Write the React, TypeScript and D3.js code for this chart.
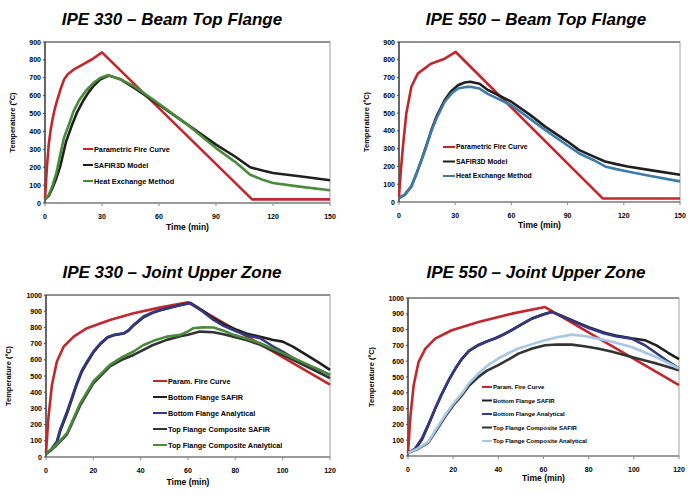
import React from "react";
import * as d3 from "d3";

// ---------- DATA ----------
const titles = [
  "IPE 330 – Beam Top Flange",
  "IPE 550 – Beam Top Flange",
  "IPE 330 – Joint Upper Zone",
  "IPE 550 – Joint Upper Zone",
];
const topLegend = ["Parametric Fire Curve", "SAFIR3D Model", "Heat Exchange Method"];
const bottomLegend = [
  "Param. Fire Curve",
  "Bottom Flange SAFIR",
  "Bottom Flange Analytical",
  "Top Flange Composite SAFIR",
  "Top Flange Composite Analytical",
];
const topXTicks = [0, 30, 60, 90, 120, 150];
const topYTicks = [0, 100, 200, 300, 400, 500, 600, 700, 800, 900];
const bottomXTicks = [0, 20, 40, 60, 80, 100, 120];
const bottomYTicks = [0, 100, 200, 300, 400, 500, 600, 700, 800, 900, 1000];

// IPE 330 – Beam Top Flange
const tlRedT = [0, 1, 2, 3, 4, 5, 6, 8, 10, 12, 15, 20, 25, 30, 109, 150];
const tlRedV = [20, 200, 330, 410, 470, 520, 560, 630, 690, 720, 745, 775, 805, 842, 20, 20];
const tlSafT = [0, 2, 4, 6, 8, 11, 14, 17, 20, 23, 26, 29, 32, 34, 40, 47, 60, 75, 90, 100, 108, 115, 120, 135, 150];
const tlSafV = [20, 40, 85, 140, 205, 340, 430, 510, 570, 620, 660, 690, 705, 712, 690, 643, 550, 438, 326, 260, 200, 180, 168, 148, 127];
const tlHeatT = [0, 2, 4, 6, 8, 10, 13, 15, 18, 22, 26, 29, 33, 40, 47, 60, 75, 90, 100, 108, 115, 120, 135, 150];
const tlHeatV = [20, 45, 100, 168, 270, 365, 450, 512, 575, 633, 675, 699, 714, 690, 652, 555, 438, 307, 230, 158, 128, 112, 90, 71];

// IPE 550 – Beam Top Flange
const trRedT = [0, 1, 2.1, 3.9, 6.6, 10, 17, 24.4, 30.3, 108.7, 150];
const trRedV = [30, 180, 312, 498, 648, 722, 778, 806, 844, 20, 20];
const trSafT = [0, 3, 6.6, 9, 12, 15, 17.3, 20, 24.4, 28, 31.5, 35, 38, 43, 47.6, 60, 70, 78, 90, 96, 104, 110, 116, 122, 135, 150];
const trSafV = [22, 40, 88, 150, 237, 330, 405, 480, 573, 625, 657, 672, 676, 665, 629, 564, 490, 424, 340, 293, 255, 228, 213, 200, 178, 153];
const trHeatT = [0, 3, 6.6, 9, 12, 15, 17.3, 20, 24.4, 28, 31.5, 35, 38, 43, 47.6, 60, 78, 96, 104, 110, 116, 122, 135, 150];
const trHeatV = [22, 40, 88, 150, 235, 325, 400, 470, 564, 610, 638, 646, 648, 638, 607, 545, 405, 274, 235, 200, 185, 172, 145, 116];

// IPE 330 – Joint Upper Zone
const blRedT = [0, 1, 2.5, 4.6, 7.5, 11.7, 17.3, 27, 37, 48, 60, 120];
const blRedV = [25, 240, 445, 589, 682, 743, 795, 846, 887, 922, 955, 446];
const blBotT = [0, 2, 4.6, 6, 8.9, 11, 13, 15, 17.3, 20, 23, 26, 28.6, 32.8, 35, 37, 41.2, 45, 48.3, 52, 55.3, 61, 66, 70.8, 75, 80.6, 85, 90.5, 96, 100, 104.5, 110, 115, 120];
const blBotSafV = [20, 40, 90, 160, 270, 360, 448, 522, 582, 645, 698, 738, 752, 762, 782, 812, 862, 890, 906, 920, 932, 952, 905, 855, 820, 785, 760, 742, 722, 712, 680, 630, 585, 538];
const blBotAnaV = [20, 45, 96, 170, 281, 370, 456, 530, 589, 650, 702, 740, 754, 764, 785, 815, 867, 892, 908, 922, 934, 949, 900, 846, 810, 774, 750, 733, 682, 650, 610, 570, 540, 507];
const blTopSafT = [0, 4, 8.9, 14.5, 20, 27, 32, 37, 45, 51, 56.7, 60, 65, 70.8, 75, 79.2, 85, 90.5, 100, 110, 120];
const blTopSafV = [20, 65, 140, 320, 455, 559, 600, 630, 690, 723, 745, 755, 774, 770, 758, 743, 720, 692, 630, 560, 487];
const blTopAnaT = [0, 4, 8.9, 14.5, 20, 27, 32, 37, 41, 45.4, 51, 56.7, 60, 62.3, 66, 70.8, 75, 79.2, 85, 90.5, 100, 110, 120];
const blTopAnaV = [20, 70, 148, 333, 466, 569, 615, 651, 690, 717, 743, 754, 775, 795, 800, 799, 780, 754, 730, 702, 641, 575, 507];

// IPE 550 – Joint Upper Zone
const brRedT = [0, 1, 2.5, 4.7, 7.7, 12, 19.4, 31.2, 46, 60.7, 120];
const brRedV = [20, 238, 448, 596, 680, 743, 796, 848, 901, 943, 448];
const brBotT = [0, 3, 6.2, 9, 12, 15, 18, 21, 23.9, 27, 31.2, 35, 38.6, 42, 46, 50, 54.8, 60, 63.6, 68, 75.4, 80, 87, 92, 99, 104.9, 110, 115, 120];
const brBotSafV = [20, 40, 105, 195, 298, 392, 478, 553, 615, 665, 703, 727, 745, 768, 798, 832, 870, 897, 912, 888, 842, 815, 780, 762, 745, 733, 700, 655, 613];
const brBotAnaV = [20, 45, 112, 200, 301, 395, 480, 555, 617, 665, 701, 725, 743, 765, 796, 830, 869, 895, 912, 885, 838, 810, 775, 758, 743, 701, 650, 600, 554];
const brTopT = [0, 4, 9, 12, 16.5, 20, 23.9, 27, 31.2, 35, 40, 45, 48.9, 55, 60.7, 66, 72.5, 78, 84, 90, 99, 110, 120];
const brTopSafV = [20, 42, 85, 150, 250, 320, 385, 445, 501, 540, 575, 615, 648, 680, 701, 706, 705, 695, 680, 662, 627, 585, 543];
const brTopAnaV = [20, 45, 90, 160, 259, 330, 396, 460, 522, 570, 617, 655, 680, 708, 733, 752, 768, 760, 743, 725, 690, 625, 554];

// ---------- STYLES ----------
const RED = "#c1272d";
const BLACK = "#1f1f1f";
const BLACK2 = "#333333";
const GREEN = "#4a8b3b";
const BLUE = "#3f7ba8";
const NAVY = "#34387e";
const LIGHTBLUE = "#a7c7e2";
const FONT = "'Liberation Sans', Arial, sans-serif";

type Series = { t: number[]; v: number[]; color: string; label: string };

type PanelProps = {
  title: string;
  titleX: number;
  x0: number; x1: number; yTop: number; yBot: number;
  xMax: number; yMax: number; xTicks: number[]; yTicks: number[];
  series: Series[];
  legend: { x: number; y: number; dy: number; len: number; size: number };
  titleY: number;
  xLabelY: number;
  yLabelX: number;
  tickSize: number;
};

function Panel(p: PanelProps) {
  const x = d3.scaleLinear().domain([0, p.xMax]).range([p.x0, p.x1]);
  const y = d3.scaleLinear().domain([0, p.yMax]).range([p.yBot, p.yTop]);
  const line = d3.line<[number, number]>().x((d) => x(d[0])).y((d) => y(d[1]));
  const cx = (p.x0 + p.x1) / 2;
  return (
    <g>
      <text x={p.titleX} y={p.titleY} textAnchor="middle" fontFamily={FONT} fontWeight="bold" fontStyle="italic" fontSize={17}>
        {p.title}
      </text>
      <rect x={p.x0} y={p.yTop} width={p.x1 - p.x0} height={p.yBot - p.yTop} fill="white" stroke="#a0a0a0" strokeWidth={1} />
      <line x1={p.x0} x2={p.x1} y1={p.yTop} y2={p.yTop} stroke="#555" strokeWidth={1} />
      <line x1={p.x0} x2={p.x0} y1={p.yTop} y2={p.yBot} stroke="#222" strokeWidth={1.2} />
      <line x1={p.x0} x2={p.x1} y1={p.yBot} y2={p.yBot} stroke="#666" strokeWidth={1.2} />
      {p.yTicks.map((t) => (
        <g key={"y" + t}>
          <line x1={p.x0 - 2} x2={p.x0} y1={y(t)} y2={y(t)} stroke="#444" />
          <text x={p.x0 - 4} y={y(t) + 2.5} textAnchor="end" fontFamily={FONT} fontWeight="bold" fontSize={p.tickSize}>
            {t}
          </text>
        </g>
      ))}
      {p.xTicks.map((t) => (
        <g key={"x" + t}>
          <line x1={x(t)} x2={x(t)} y1={p.yBot} y2={p.yBot + 3} stroke="#888" />
          <text x={x(t)} y={p.yBot + 16} textAnchor="middle" fontFamily={FONT} fontWeight="bold" fontSize={p.tickSize}>
            {t}
          </text>
        </g>
      ))}
      <text x={cx} y={p.xLabelY} textAnchor="middle" fontFamily={FONT} fontWeight="bold" fontSize={8.5}>
        Time (min)
      </text>
      <text
        transform={`translate(${p.yLabelX},${(p.yTop + p.yBot) / 2}) rotate(-90)`}
        textAnchor="middle"
        fontFamily={FONT}
        fontWeight="bold"
        fontSize={7.5}
      >
        Temperature (ºC)
      </text>
      {p.series.map((s, i) => (
        <path
          key={"s" + i}
          d={line(s.t.map((t, j) => [t, s.v[j]] as [number, number])) || ""}
          fill="none"
          stroke={s.color}
          strokeWidth={2.6}
          strokeLinejoin="round"
        />
      ))}
      {p.series.map((s, i) => (
        <g key={"l" + i}>
          <line
            x1={p.legend.x}
            x2={p.legend.x + p.legend.len}
            y1={p.legend.y + i * p.legend.dy}
            y2={p.legend.y + i * p.legend.dy}
            stroke={s.color}
            strokeWidth={2}
          />
          <text
            x={p.legend.x + p.legend.len + 1}
            y={p.legend.y + i * p.legend.dy + p.legend.size * 0.36}
            fontFamily={FONT}
            fontWeight="bold"
            fontSize={p.legend.size}
          >
            {s.label}
          </text>
        </g>
      ))}
    </g>
  );
}

export default function App() {
  const tl: Series[] = [
    { t: tlRedT, v: tlRedV, color: RED, label: topLegend[0] },
    { t: tlSafT, v: tlSafV, color: BLACK, label: topLegend[1] },
    { t: tlHeatT, v: tlHeatV, color: GREEN, label: topLegend[2] },
  ];
  const tr: Series[] = [
    { t: trRedT, v: trRedV, color: RED, label: topLegend[0] },
    { t: trSafT, v: trSafV, color: BLACK, label: topLegend[1] },
    { t: trHeatT, v: trHeatV, color: BLUE, label: topLegend[2] },
  ];
  const bl: Series[] = [
    { t: blRedT, v: blRedV, color: RED, label: bottomLegend[0] },
    { t: blBotT, v: blBotSafV, color: BLACK, label: bottomLegend[1] },
    { t: blBotT, v: blBotAnaV, color: NAVY, label: bottomLegend[2] },
    { t: blTopSafT, v: blTopSafV, color: BLACK2, label: bottomLegend[3] },
    { t: blTopAnaT, v: blTopAnaV, color: GREEN, label: bottomLegend[4] },
  ];
  const br: Series[] = [
    { t: brRedT, v: brRedV, color: RED, label: bottomLegend[0] },
    { t: brBotT, v: brBotSafV, color: BLACK, label: bottomLegend[1] },
    { t: brBotT, v: brBotAnaV, color: NAVY, label: bottomLegend[2] },
    { t: brTopT, v: brTopSafV, color: BLACK2, label: bottomLegend[3] },
    { t: brTopT, v: brTopAnaV, color: LIGHTBLUE, label: bottomLegend[4] },
  ];
  return (
    <svg width={697} height={504} style={{ position: "absolute", left: 0, top: 0, background: "white" }}>
      <rect width={697} height={504} fill="white" />
      <Panel
        title={titles[0]} titleX={172} x0={45} x1={330} yTop={42} yBot={203} xMax={150} yMax={900}
        xTicks={topXTicks} yTicks={topYTicks} series={tl}
        legend={{ x: 83, y: 149, dy: 16, len: 10, size: 7.3 }}
        titleY={25} xLabelY={230} yLabelX={15} tickSize={7}
      />
      <Panel
        title={titles[1]} titleX={536} x0={399} x1={680} yTop={42} yBot={202} xMax={150} yMax={900}
        xTicks={topXTicks} yTicks={topYTicks} series={tr}
        legend={{ x: 443, y: 147, dy: 14.5, len: 12, size: 6.9 }}
        titleY={25} xLabelY={228} yLabelX={369} tickSize={7}
      />
      <Panel
        title={titles[2]} titleX={172} x0={46} x1={330} yTop={295} yBot={457} xMax={120} yMax={1000}
        xTicks={bottomXTicks} yTicks={bottomYTicks} series={bl}
        legend={{ x: 153, y: 381, dy: 16, len: 14, size: 7.3 }}
        titleY={278} xLabelY={485} yLabelX={11} tickSize={7}
      />
      <Panel
        title={titles[3]} titleX={536} x0={408} x1={679} yTop={298} yBot={456} xMax={120} yMax={1000}
        xTicks={bottomXTicks} yTicks={bottomYTicks} series={br}
        legend={{ x: 482, y: 387, dy: 13.5, len: 10, size: 6 }}
        titleY={278} xLabelY={481} yLabelX={374} tickSize={7}
      />
    </svg>
  );
}
